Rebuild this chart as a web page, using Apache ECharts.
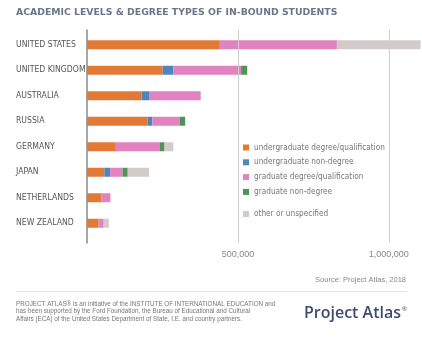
<!DOCTYPE html>
<html>
<head>
<meta charset="utf-8">
<script src="https://cdn.jsdelivr.net/npm/echarts@6/dist/echarts.min.js"></script>
<style>html,body{margin:0;padding:0;background:#fff}#c{width:422px;height:337px}</style>
</head>
<body>
<div id="c"></div>
<script>
var categories = ['UNITED STATES','UNITED KINGDOM','AUSTRALIA','RUSSIA','GERMANY','JAPAN','NETHERLANDS','NEW ZEALAND'];
var ugDegree      = [437000, 249000, 180000, 200000,  95000, 57000, 48000, 38000];
var ugNonDegree   = [     0,  35000,  24000,  15000,      0, 19000,     0,     0];
var gradDegree    = [385000, 223000, 170000,  91000, 145000, 41000, 29000, 17000];
var gradNonDegree = [     0,  20000,      0,  17000,  15000, 17000,     0,     0];
var other         = [275000,      0,      0,      0,  29000, 70000,     0, 17000];
var seriesNames = ['undergraduate degree/qualification','undergraduate non-degree','graduate degree/qualification','graduate non-degree','other or unspecified'];
var tickValues = [500000, 1000000];

var colors = ['#e27a36','#4f85bd','#e083c0','#4e9456','#d2cbc9'];
var condensed = '"DejaVu Sans Condensed","Liberation Sans Narrow",sans-serif';
var dataSets = [ugDegree, ugNonDegree, gradDegree, gradNonDegree, other];

var series = dataSets.map(function (d, i) {
  return {
    name: seriesNames[i], type: 'bar', stack: 'total', barWidth: 9,
    xAxisIndex: 0, yAxisIndex: 0,
    itemStyle: { color: colors[i] },
    data: d.map(function (v) { return v === 0 ? null : v; })
  };
});
series.push({
  type: 'scatter', xAxisIndex: 1, yAxisIndex: 1, symbolSize: 0, silent: true,
  data: [[0, 0]],
  markLine: {
    silent: true, symbol: 'none', label: { show: false },
    lineStyle: { color: '#cfcfcf', type: 'solid', width: 1 },
    data: tickValues.map(function (v) { return { xAxis: v }; })
  }
});

var chart = echarts.init(document.getElementById('c'));
chart.setOption({
  animation: false,
  color: colors,
  title: {
    text: 'ACADEMIC LEVELS & DEGREE TYPES OF IN-BOUND STUDENTS',
    left: 16, top: 8, padding: 0,
    textStyle: { fontFamily: '"DejaVu Sans",sans-serif', fontSize: 9.3, fontWeight: 'bold', color: '#6b7689' }
  },
  grid: [
    { left: 87, top: 32, height: 204, width: 334.4 },
    { left: 87, top: 30, height: 213, width: 334.4 }
  ],
  xAxis: [
    { type: 'value', gridIndex: 0, min: 0, max: 1100000, show: false },
    { type: 'value', gridIndex: 1, min: 0, max: 1100000, interval: 500000,
      splitLine: { show: false }, axisLine: { show: false }, axisTick: { show: false },
      axisLabel: { margin: 7, color: '#888', fontSize: 9, fontFamily: '"Liberation Sans",sans-serif',
        formatter: function (v) { return tickValues.indexOf(v) >= 0 ? v.toLocaleString('en-US') : ''; } } }
  ],
  yAxis: [
    { type: 'category', gridIndex: 0, inverse: true, data: categories,
      axisLine: { show: false }, axisTick: { show: false },
      axisLabel: { align: 'left', margin: 71, color: '#555', fontSize: 8.6, fontFamily: condensed } },
    { type: 'value', gridIndex: 1, min: 0, max: 1, axisLabel: { show: false }, axisTick: { show: false },
      splitLine: { show: false }, axisLine: { show: true, lineStyle: { color: '#8a8a8a', width: 1.5 } } }
  ],
  legend: [
    { data: seriesNames.slice(0, 4), orient: 'vertical', left: 243, top: 142.5, padding: 0,
      itemWidth: 6, itemHeight: 6, itemGap: 4.8, icon: 'rect', selectedMode: false,
      textStyle: { color: '#777', fontSize: 8.2, lineHeight: 10, fontFamily: condensed } },
    { data: seriesNames.slice(4), orient: 'vertical', left: 243, top: 209, padding: 0,
      itemWidth: 6, itemHeight: 6, icon: 'rect', selectedMode: false,
      textStyle: { color: '#777', fontSize: 8.2, lineHeight: 10, fontFamily: condensed } }
  ],
  graphic: [
    { type: 'text', right: 16, top: 276,
      style: { text: 'Source: Project Atlas, 2018', fill: '#888', font: '7.5px "Liberation Sans",sans-serif' } },
    { type: 'rect', left: 16, top: 291, shape: { width: 391, height: 1 }, style: { fill: '#e4e4e4' } },
    { type: 'text', left: 16, top: 300,
      style: { text: 'PROJECT ATLAS\u00AE is an initiative of the INSTITUTE OF INTERNATIONAL EDUCATION and\nhas been supported by the Ford Foundation, the Bureau of Educational and Cultural\nAffairs (ECA) of the United States Department of State, I.E. and country partners.',
        fill: '#777', font: '6.3px "Liberation Sans",sans-serif', lineHeight: 7.6 } },
    { type: 'text', right: 21, top: 305,
      style: { text: 'Project Atlas', fill: '#3d4b73', font: '600 16px "Open Sans",sans-serif' } },
    { type: 'text', right: 15, top: 306,
      style: { text: '\u00AE', fill: '#3d4b73', font: '6px "Open Sans",sans-serif' } }
  ],
  series: series
});
</script>
</body>
</html>
